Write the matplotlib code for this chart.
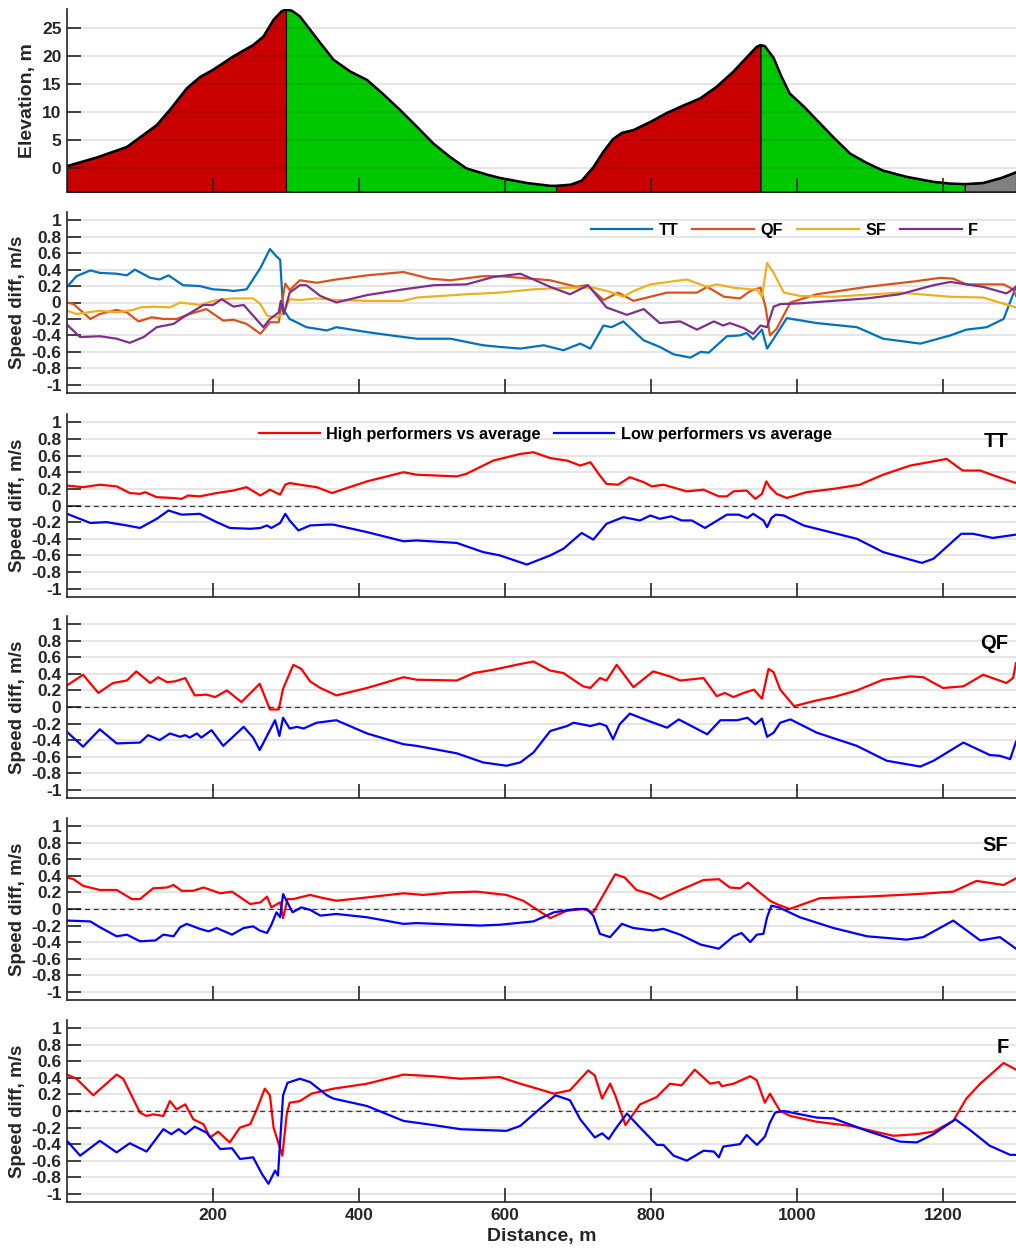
import numpy as np
import matplotlib
matplotlib.use('Agg')
import matplotlib.pyplot as plt

plt.rcParams['font.family'] = ['Liberation Sans', 'DejaVu Sans']
plt.rcParams['font.weight'] = 'bold'
plt.rcParams['axes.labelweight'] = 'bold'
plt.rcParams['lines.solid_joinstyle'] = 'round'

# elevation profile (distance m, elevation m)
elevation = [(0, 0.4), (40, 1.9), (82, 3.8), (100, 5.5), (123, 7.7), (141, 10.4), (164, 14.2), (182, 16.2),
             (200, 17.5), (228, 19.9), (255, 21.9), (269, 23.4), (283, 26.4), (294, 27.9), (300, 28.2),
             (308, 28.0), (319, 27.0), (342, 23.1), (365, 19.3), (388, 17.2), (411, 15.7), (433, 13.2),
             (456, 10.4), (480, 7.3), (502, 4.4), (525, 2.0), (547, 0.0), (575, -1.1), (593, -1.7),
             (630, -2.6), (662, -3.1), (670, -3.1), (690, -2.9), (705, -2.2), (721, 0.2), (735, 3.0),
             (748, 5.2), (760, 6.3), (776, 6.8), (800, 8.3), (821, 9.8), (845, 11.2), (867, 12.4),
             (890, 14.5), (913, 17.2), (936, 20.4), (945, 21.6), (950, 21.9), (956, 21.7), (968, 19.6),
             (978, 16.5), (990, 13.3), (1010, 10.9), (1027, 8.6), (1050, 5.5), (1073, 2.6), (1095, 1.0),
             (1118, -0.4), (1150, -1.5), (1187, -2.4), (1210, -2.7), (1230, -2.8), (1255, -2.6),
             (1280, -1.7), (1300, -0.7)]

# course sections: start, end, kind
seg_start = [0, 300, 670, 950, 1230]
seg_end = [300, 670, 950, 1230, 1300]
seg_kind = ['up', 'down', 'up', 'down', 'finish']
seg_colors = {'up': '#c80000', 'down': '#00c800', 'finish': '#808080'}

# speed difference of each round vs average
rounds = ['TT', 'QF', 'SF', 'F']
round_colors = ['#0072bd', '#d95319', '#edb120', '#7e2f8e']

tt_all = [(0, .19), (13, .32), (32, .39), (45, .36), (68, .35), (82, .33), (93, .40), (114, .30), (127, .28),
          (139, .33), (159, .21), (182, .20), (200, .16), (219, .15), (228, .14), (246, .16), (265, .42),
          (278, .65), (287, .56), (292, .52), (296, -.08), (305, -.20), (328, -.30), (356, -.34), (369, -.30),
          (411, -.36), (461, -.42), (479, -.44), (525, -.44), (570, -.52), (593, -.54), (621, -.56),
          (653, -.52), (680, -.58), (703, -.50), (717, -.56), (735, -.28), (746, -.30), (762, -.23),
          (790, -.46), (812, -.54), (831, -.63), (854, -.67), (868, -.60), (879, -.61), (904, -.41),
          (922, -.40), (931, -.37), (940, -.45), (952, -.33), (959, -.56), (968, -.44), (986, -.19),
          (1027, -.25), (1082, -.30), (1118, -.44), (1169, -.50), (1210, -.40), (1232, -.33), (1260, -.30),
          (1283, -.20), (1300, .19)]
qf_all = [(0, .00), (9, -.02), (32, -.20), (45, -.14), (68, -.09), (82, -.12), (98, -.23), (116, -.18),
          (132, -.20), (150, -.20), (168, -.14), (191, -.08), (214, -.22), (228, -.21), (246, -.26),
          (265, -.38), (278, -.24), (290, -.24), (299, .23), (305, .15), (319, .27), (342, .24), (369, .28),
          (411, .33), (461, .37), (497, .29), (525, .27), (570, .32), (593, .32), (662, .27), (698, .19),
          (712, .21), (735, .03), (755, .12), (776, .02), (822, .12), (863, .12), (877, .19), (900, .07),
          (922, .05), (936, .14), (950, .18), (957, -.06), (963, -.40), (972, -.32), (991, .00), (1027, .10),
          (1096, .19), (1164, .26), (1196, .30), (1214, .29), (1232, .22), (1283, .22), (1296, .16), (1300, .08)]
sf_all = [(0, -.10), (13, -.14), (45, -.10), (68, -.12), (91, -.09), (100, -.06), (118, -.05), (141, -.06),
          (155, .00), (182, -.03), (205, .03), (228, .05), (255, .05), (265, -.02), (274, -.16), (287, -.18),
          (296, -.14), (305, .04), (319, .03), (342, .05), (369, .03), (411, .02), (461, .02), (479, .06),
          (547, .10), (593, .12), (639, .16), (685, .18), (721, .18), (744, .13), (762, .07), (776, .14),
          (799, .22), (849, .28), (877, .19), (890, .22), (913, .18), (936, .16), (945, .16), (952, .07),
          (959, .48), (968, .36), (982, .12), (1004, .08), (1050, .07), (1141, .12), (1210, .07), (1255, .06),
          (1300, -.06)]
f_all = [(0, -.27), (18, -.42), (45, -.41), (68, -.44), (86, -.49), (105, -.42), (123, -.30), (146, -.26),
         (159, -.18), (187, -.03), (200, -.03), (212, .04), (228, -.05), (242, -.03), (269, -.30), (278, -.20),
         (290, -.12), (293, .02), (297, -.14), (305, .12), (319, .21), (328, .21), (347, .08), (369, .00),
         (411, .09), (461, .16), (502, .21), (547, .22), (584, .31), (621, .35), (662, .19), (689, .10),
         (714, .21), (739, -.06), (767, -.15), (790, -.08), (812, -.25), (840, -.23), (863, -.33), (886, -.23),
         (899, -.28), (908, -.25), (927, -.31), (940, -.38), (950, -.28), (959, -.30), (968, -.05), (977, -.02),
         (1004, -.01), (1096, .05), (1141, .10), (1187, .21), (1210, .25), (1255, .19), (1287, .11), (1300, .19)]

# high / low performers vs average, per round
tt_high = [(0, .24), (22, .22), (45, .25), (68, .23), (86, .15), (100, .14), (107, .16), (123, .10), (146, .09),
           (157, .08), (166, .12), (182, .11), (205, .15), (228, .18), (246, .22), (265, .12), (278, .19),
           (292, .13), (299, .25), (305, .27), (319, .25), (342, .22), (363, .15), (411, .29), (461, .40),
           (479, .37), (534, .35), (547, .38), (584, .54), (621, .62), (639, .64), (662, .57), (685, .54),
           (703, .48), (717, .52), (730, .36), (739, .26), (755, .25), (771, .34), (790, .28), (801, .23),
           (817, .25), (849, .17), (872, .19), (893, .11), (904, .11), (913, .17), (931, .18), (943, .08),
           (952, .14), (958, .29), (963, .22), (972, .14), (986, .09), (1013, .16), (1050, .20), (1086, .25),
           (1118, .37), (1155, .48), (1205, .56), (1227, .42), (1251, .42), (1273, .35), (1300, .27)]
tt_low = [(0, -.10), (32, -.21), (54, -.20), (82, -.24), (100, -.27), (123, -.16), (139, -.06), (157, -.11),
          (182, -.10), (205, -.20), (223, -.27), (251, -.28), (265, -.27), (274, -.24), (280, -.27), (292, -.21),
          (299, -.10), (305, -.18), (317, -.30), (333, -.24), (356, -.23), (365, -.23), (411, -.32), (461, -.43),
          (479, -.42), (534, -.45), (570, -.56), (593, -.60), (630, -.71), (662, -.60), (680, -.52), (705, -.33),
          (721, -.41), (739, -.22), (762, -.14), (785, -.18), (799, -.12), (812, -.16), (828, -.13), (842, -.18),
          (856, -.18), (874, -.27), (904, -.11), (920, -.11), (932, -.15), (940, -.10), (954, -.18), (959, -.26),
          (965, -.15), (971, -.11), (982, -.12), (1009, -.24), (1050, -.33), (1082, -.40), (1118, -.56),
          (1171, -.69), (1187, -.64), (1225, -.34), (1241, -.34), (1268, -.39), (1300, -.35)]
qf_high = [(0, .26), (22, .39), (43, .17), (63, .29), (82, .32), (95, .43), (114, .29), (125, .36), (137, .30),
           (148, .31), (162, .35), (175, .14), (191, .15), (203, .12), (219, .20), (239, .06), (264, .28),
           (278, -.03), (290, -.03), (296, .22), (310, .51), (321, .46), (333, .31), (347, .23), (369, .14),
           (411, .23), (461, .36), (479, .33), (534, .32), (557, .41), (584, .45), (621, .52), (639, .55),
           (662, .44), (680, .41), (707, .25), (717, .23), (730, .35), (739, .32), (753, .51), (776, .24),
           (803, .43), (826, .37), (840, .32), (872, .35), (890, .13), (901, .17), (913, .12), (927, .17),
           (941, .21), (952, .10), (961, .46), (968, .42), (977, .21), (996, .01), (1027, .08), (1050, .12),
           (1082, .20), (1118, .33), (1155, .37), (1173, .36), (1200, .23), (1228, .25), (1255, .39),
           (1287, .29), (1296, .35), (1300, .53)]
qf_low = [(0, -.30), (22, -.48), (45, -.27), (68, -.44), (100, -.43), (111, -.34), (127, -.40), (141, -.32),
          (155, -.36), (162, -.34), (168, -.37), (178, -.32), (184, -.37), (198, -.28), (214, -.47), (242, -.24),
          (255, -.37), (264, -.52), (285, -.16), (291, -.35), (296, -.13), (305, -.26), (315, -.24), (324, -.26),
          (342, -.19), (369, -.16), (411, -.32), (461, -.45), (479, -.47), (534, -.56), (570, -.67), (602, -.71),
          (621, -.67), (639, -.55), (662, -.29), (685, -.23), (694, -.19), (717, -.23), (730, -.20), (739, -.23),
          (748, -.39), (757, -.21), (771, -.08), (794, -.16), (822, -.25), (838, -.15), (877, -.33), (895, -.16),
          (918, -.16), (932, -.13), (943, -.21), (952, -.14), (959, -.36), (968, -.31), (977, -.19), (991, -.15),
          (1027, -.31), (1082, -.47), (1123, -.65), (1169, -.72), (1187, -.65), (1228, -.43), (1264, -.58),
          (1278, -.59), (1292, -.63), (1300, -.42)]
sf_high = [(0, .38), (9, .36), (22, .28), (45, .23), (68, .23), (89, .12), (100, .12), (118, .25), (137, .26),
           (146, .29), (157, .22), (173, .22), (187, .26), (210, .19), (226, .21), (251, .06), (265, .08),
           (274, .15), (280, .02), (292, .08), (296, -.11), (302, .12), (310, .12), (319, .14), (333, .17),
           (347, .14), (369, .10), (411, .14), (461, .19), (488, .17), (525, .20), (561, .21), (602, .17),
           (625, .10), (662, -.11), (685, -.02), (707, .00), (721, -.04), (751, .42), (764, .38), (780, .23),
           (799, .18), (813, .12), (840, .23), (872, .35), (893, .36), (908, .26), (922, .25), (933, .32),
           (949, .20), (963, .10), (972, .06), (990, .00), (1031, .13), (1096, .15), (1164, .18), (1214, .21),
           (1246, .34), (1283, .29), (1300, .37)]
sf_low = [(0, -.14), (32, -.15), (45, -.22), (68, -.33), (82, -.31), (100, -.39), (121, -.38), (132, -.31),
          (146, -.33), (155, -.22), (164, -.18), (182, -.24), (194, -.27), (205, -.23), (226, -.31), (242, -.23),
          (255, -.21), (264, -.26), (274, -.29), (280, -.19), (287, -.04), (292, -.10), (296, .18), (309, -.04),
          (321, .02), (333, -.01), (347, -.08), (369, -.06), (411, -.10), (461, -.18), (479, -.17), (534, -.19),
          (566, -.20), (593, -.19), (639, -.15), (667, -.04), (698, .00), (712, .00), (721, -.08), (730, -.30),
          (744, -.34), (760, -.18), (776, -.23), (803, -.26), (817, -.24), (840, -.31), (868, -.43), (893, -.48),
          (913, -.33), (924, -.29), (936, -.40), (945, -.31), (954, -.30), (959, -.10), (965, .04), (975, .02),
          (1004, -.10), (1050, -.23), (1096, -.33), (1150, -.37), (1173, -.34), (1214, -.14), (1251, -.38),
          (1278, -.34), (1300, -.48)]
f_high = [(0, .44), (13, .39), (36, .19), (59, .37), (68, .44), (77, .39), (100, -.02), (109, -.06), (118, -.04),
          (132, -.06), (141, .12), (150, .02), (162, .08), (173, -.10), (187, -.16), (196, -.32), (207, -.25),
          (223, -.38), (237, -.20), (251, -.16), (260, .02), (271, .27), (278, .19), (283, -.20), (295, -.54),
          (301, -.04), (305, .10), (319, .12), (335, .21), (365, .27), (411, .33), (461, .44), (502, .42),
          (539, .39), (593, .41), (621, .33), (667, .21), (689, .25), (714, .49), (723, .43), (733, .15),
          (744, .33), (751, .19), (765, -.17), (785, .08), (808, .17), (826, .33), (842, .31), (860, .50),
          (881, .33), (893, .35), (897, .30), (913, .33), (936, .42), (945, .37), (956, .10), (963, .21),
          (970, .10), (977, .00), (991, -.06), (1027, -.13), (1073, -.18), (1132, -.30), (1164, -.28),
          (1187, -.25), (1214, -.12), (1232, .15), (1251, .33), (1283, .58), (1300, .50)]
f_low = [(0, -.36), (18, -.54), (45, -.36), (68, -.50), (86, -.39), (109, -.49), (132, -.22), (143, -.28),
         (153, -.22), (162, -.28), (175, -.19), (191, -.26), (210, -.46), (226, -.45), (237, -.58), (255, -.56),
         (267, -.76), (276, -.88), (285, -.72), (289, -.78), (296, .19), (302, .34), (319, .39), (333, .35),
         (356, .19), (365, .15), (411, .06), (461, -.12), (502, -.17), (539, -.22), (570, -.23), (602, -.24),
         (621, -.18), (639, -.04), (669, .19), (689, .13), (703, -.10), (723, -.32), (733, -.27), (742, -.34),
         (751, -.22), (767, -.03), (785, -.20), (808, -.41), (817, -.41), (831, -.54), (849, -.60), (872, -.48),
         (886, -.49), (893, -.56), (899, -.43), (922, -.40), (931, -.29), (945, -.41), (956, -.31), (963, -.14),
         (970, -.02), (982, .00), (1027, -.08), (1050, -.09), (1096, -.24), (1141, -.37), (1164, -.38),
         (1187, -.28), (1217, -.10), (1237, -.23), (1264, -.42), (1292, -.53), (1300, -.53)]

xticks = [200, 400, 600, 800, 1000, 1200]
speed_ticks = [-1, -0.8, -0.6, -0.4, -0.2, 0, 0.2, 0.4, 0.6, 0.8, 1]
speed_labels = ['-1', '-0.8', '-0.6', '-0.4', '-0.2', '0', '0.2', '0.4', '0.6', '0.8', '1']
elev_ticks = [0, 5, 10, 15, 20, 25]
ink = '#262626'


def style(ax):
    ax.set_xlim(0, 1300)
    ax.set_xticks(xticks)
    for s in ['top', 'right']:
        ax.spines[s].set_visible(False)
    for s in ['left', 'bottom']:
        ax.spines[s].set_color(ink)
        ax.spines[s].set_linewidth(1.2)
    ax.tick_params(direction='in', length=10, width=1.2, color=ink, labelsize=12.5, labelcolor=ink, pad=4)
    ax.grid(axis='y', color='k', alpha=0.1, lw=1.5)


fig = plt.figure(figsize=(10.16, 12.55), dpi=100)
W, H = 1016, 1255
tops = [9, 212, 414, 616, 818, 1020]
bottoms = [192, 393, 597, 798, 1000, 1202]
axes = [fig.add_axes([67 / W, 1 - b / H, 1 - 67 / W, (b - t) / H]) for t, b in zip(tops, bottoms)]

# elevation
ax = axes[0]
d, e = np.array(elevation).T
ylo, yhi = -4.2, 28.3
ax.set_ylim(ylo, yhi)
for a, b, k in zip(seg_start, seg_end, seg_kind):
    m = (d >= a) & (d <= b)
    ax.fill_between(d[m], ylo, e[m], facecolor=seg_colors[k], edgecolor='k', lw=0.8)
ax.plot(d, e, color='k', lw=1.8)
style(ax)
ax.set_axisbelow(False)
ax.set_yticks(elev_ticks)
ax.tick_params(labelbottom=False)
ax.set_ylabel('Elevation, m', fontsize=14, color=ink)

# all rounds together
ax = axes[1]
for name, series, c in zip(rounds, [tt_all, qf_all, sf_all, f_all], round_colors):
    x, y = np.array(series).T
    ax.plot(x, y, color=c, lw=1.6, label=name)
style(ax)
ax.set_ylim(-1.1, 1.1)
ax.set_yticks(speed_ticks)
ax.set_yticklabels(speed_labels)
ax.tick_params(labelbottom=False)
ax.set_ylabel('Speed diff, m/s', fontsize=13.5, color=ink)
leg = ax.legend(ncol=4, loc='center', bbox_to_anchor=(0.756, 0.90), frameon=False, fontsize=11.7,
                handlelength=3.8, handletextpad=0.4, columnspacing=0.85)

# high vs low performers per round
pairs = [(tt_high, tt_low), (qf_high, qf_low), (sf_high, sf_low), (f_high, f_low)]
for i, (name, (hi, lo)) in enumerate(zip(rounds, pairs)):
    ax = axes[i + 2]
    x, y = np.array(hi).T
    ax.plot(x, y, color='#ff0000', lw=1.6, label='High performers vs average')
    x, y = np.array(lo).T
    ax.plot(x, y, color='#0000ff', lw=1.6, label='Low performers vs average')
    ax.axhline(0, color='k', lw=0.9, ls=(0, (4, 3)), alpha=0.75)
    style(ax)
    ax.set_ylim(-1.1, 1.1)
    ax.set_yticks(speed_ticks)
    ax.set_yticklabels(speed_labels)
    ax.set_ylabel('Speed diff, m/s', fontsize=13.5, color=ink)
    ax.text(0.992, 0.85, name, transform=ax.transAxes, ha='right', va='center', fontsize=14.5,
            fontweight='bold', color='k')
    if i == 0:
        ax.legend(ncol=2, loc='center', bbox_to_anchor=(0.504, 0.89), frameon=False, fontsize=11.7,
                  handlelength=3.75, handletextpad=0.4, columnspacing=0.8)
    if i < 3:
        ax.tick_params(labelbottom=False)
    else:
        ax.set_xlabel('Distance, m', fontsize=14, color=ink)

plt.savefig('out.png', dpi=100)
